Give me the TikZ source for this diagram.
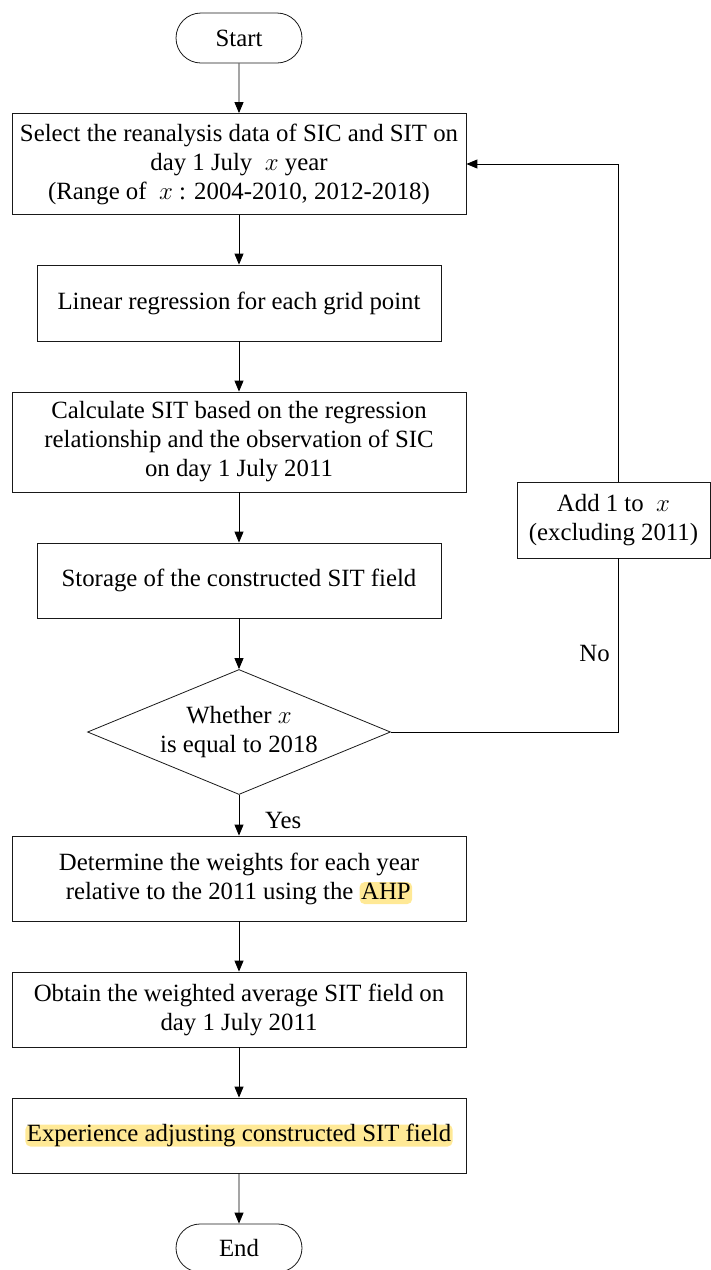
\documentclass[tikz,border=0pt]{standalone}
\usepackage{fontspec}
\setmainfont{Liberation Serif}
\usetikzlibrary{shapes.geometric,shapes.misc,arrows.meta}
\definecolor{hl}{RGB}{255,233,150}
\newcommand\hlt[1]{\tikz[baseline]\node[anchor=base, shape=rectangle, draw=none, minimum width=0pt, minimum height=0pt, fill=hl, rounded corners=5pt, inner xsep=1.5pt, inner ysep=0pt, text height=17pt, text depth=5pt]{#1};}
\tikzset{
  every node/.style={font=\fontsize{24.8pt}{29pt}\selectfont},
  procbox/.style={draw=black!90, line width=0.8pt, rectangle, align=center, inner sep=0pt},
  termbox/.style={draw=black!90, line width=0.8pt, rounded rectangle, minimum width=126pt, inner sep=0pt},
  decbox/.style={draw=black!90, line width=0.8pt, diamond, aspect=2.42, inner sep=0pt, align=center, minimum width=303pt, minimum height=125pt},
  flow/.style={line width=0.9pt, draw=black, -{Triangle[length=11pt,width=9pt]}},
  plain/.style={line width=0.9pt, draw=black},
  lbl/.style={inner sep=0pt}
}
\begin{document}
\begin{tikzpicture}[x=1pt,y=-1pt]
\useasboundingbox (0,0) rectangle (711,1270);
\node[termbox, minimum height=50pt] (start) at (239,38) {Start};
\node[procbox, minimum width=454pt, minimum height=101pt] (b1) at (239,164)
  {Select the reanalysis data of SIC and SIT on\\ day 1 July \ $x$\ year\\ (Range of \ $x$\ : 2004-2010, 2012-2018)};
\node[procbox, minimum width=404pt, minimum height=76pt] (b2) at (239,303)
  {Linear regression for each grid point};
\node[procbox, minimum width=454pt, minimum height=100pt] (b3) at (239,442)
  {Calculate SIT based on the regression\\ relationship and the observation of SIC\\ on day 1 July 2011};
\node[procbox, minimum width=404pt, minimum height=75pt] (b4) at (239,580.5)
  {Storage of the constructed SIT field};
\node[decbox] (d) at (239,732) {Whether $x$\\ is equal to 2018};
\node[procbox, minimum width=454pt, minimum height=85pt] (b5) at (239,878.5)
  {Determine the weights for each year\\ relative to the 2011 using the \hlt{AHP}};
\node[procbox, minimum width=454pt, minimum height=75pt] (b6) at (239,1009.5)
  {Obtain the weighted average SIT field on\\ day 1 July 2011};
\node[procbox, minimum width=454pt, minimum height=75pt] (b7) at (239,1135.5)
  {\hlt{Experience adjusting constructed SIT field}};
\node[termbox, minimum height=48pt] (end) at (239,1248) {End};
\node[procbox, minimum width=193pt, minimum height=76pt] (add) at (613.5,520)
  {Add 1 to \ $x$\\ (excluding 2011)};
\coordinate (turn) at (618,732);
\coordinate (top) at (618,164);

\draw[flow] (start) -- (b1);
\draw[flow] (b1) -- (b2);
\draw[flow] (b2) -- (b3);
\draw[flow] (b3) -- (b4);
\draw[flow] (b4) -- (d);
\draw[flow] (d.south) -- (b5.north);
\node[lbl, anchor=west] (yes) at (265,820) {Yes};
\draw[flow] (b5) -- (b6);
\draw[flow] (b6) -- (b7);
\draw[flow] (b7) -- (end);
\draw[plain] (d.east) -- (turn) -- (turn |- add.south);
\draw[flow] (top |- add.north) -- (top) -- (b1.east);
\node[lbl, anchor=east] (no) at (610,653) {No};
\end{tikzpicture}
\end{document}
